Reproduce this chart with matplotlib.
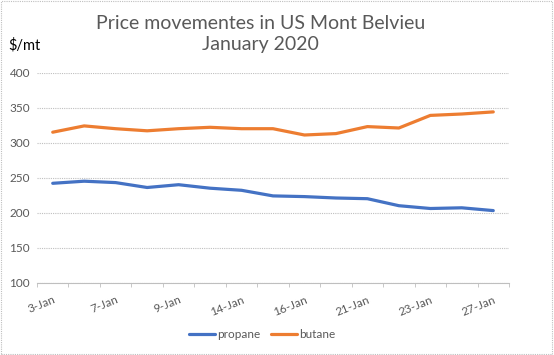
import numpy as np
import matplotlib.pyplot as plt
from matplotlib.patches import Rectangle

plt.rcParams['font.family'] = ['Lato', 'DejaVu Sans']

# trading days shown on the chart (January 2020)
dates = ["3-Jan", "6-Jan", "7-Jan", "8-Jan", "9-Jan", "13-Jan", "14-Jan", "15-Jan",
         "16-Jan", "17-Jan", "21-Jan", "22-Jan", "23-Jan", "24-Jan", "27-Jan"]
propane = [242, 245, 243, 236, 240, 235, 232, 224, 223, 221, 220, 210, 206, 207, 203]
butane = [315, 324, 320, 317, 320, 322, 320, 320, 311, 313, 323, 321, 339, 341, 344]

gray = "#595959"
x = np.arange(len(dates))

fig = plt.figure(figsize=(5.54, 3.55), dpi=100)
ax = fig.add_axes([37/554, 1-282.7/355, 472/554, 210/355])

ax.plot(x, propane, color="#4472C4", lw=2.3, solid_joinstyle="round", solid_capstyle="round", label="propane")
ax.plot(x, butane, color="#ED7D31", lw=2.3, solid_joinstyle="round", solid_capstyle="round", label="butane")

ax.set_xlim(-0.5, len(dates) - 0.5)
ax.set_ylim(100, 400)
ax.set_yticks(np.arange(100, 401, 50))
ax.yaxis.grid(True, color="#BFBFBF", lw=0.8, ls=(0, (1, 1)))
ax.set_axisbelow(True)
for s in ["left", "right", "top"]:
    ax.spines[s].set_visible(False)
ax.spines["bottom"].set_color("#BFBFBF")
ax.spines["bottom"].set_linestyle((0, (1, 1)))

ax.set_xticks(x[::2])
ax.set_xticklabels(dates[::2], rotation=22, ha="right", va="top", rotation_mode="anchor",
                   fontsize=8.5, color=gray)
ax.set_xticks(np.arange(-0.5, len(dates)), minor=True)
ax.tick_params(axis="x", which="major", length=0, pad=8)
ax.tick_params(axis="x", which="minor", length=3, color="#BFBFBF")
ax.tick_params(axis="y", length=0, labelsize=8.5, labelcolor=gray, pad=5)

fig.text(0.471, 1-34/355, "Price movementes in US Mont Belvieu\nJanuary 2020", ha="center", va="center",
         fontsize=14, color=gray, linespacing=1.3)
fig.text(8/554, 1-45/355, "$/mt", ha="left", va="center", fontsize=10.5, color="black")

fig.legend(loc="center", bbox_to_anchor=(0.473, 1-335/355), ncol=2, frameon=False, fontsize=8.5,
           handlelength=2.2, columnspacing=0.9, handletextpad=0.2, labelcolor=gray)

fig.patches.append(Rectangle((0.002, 0.003), 0.995, 0.994, transform=fig.transFigure, fill=False,
                             edgecolor="#BFBFBF", lw=0.8, ls=(0, (1, 1))))

fig.savefig("out.png", dpi=100)
